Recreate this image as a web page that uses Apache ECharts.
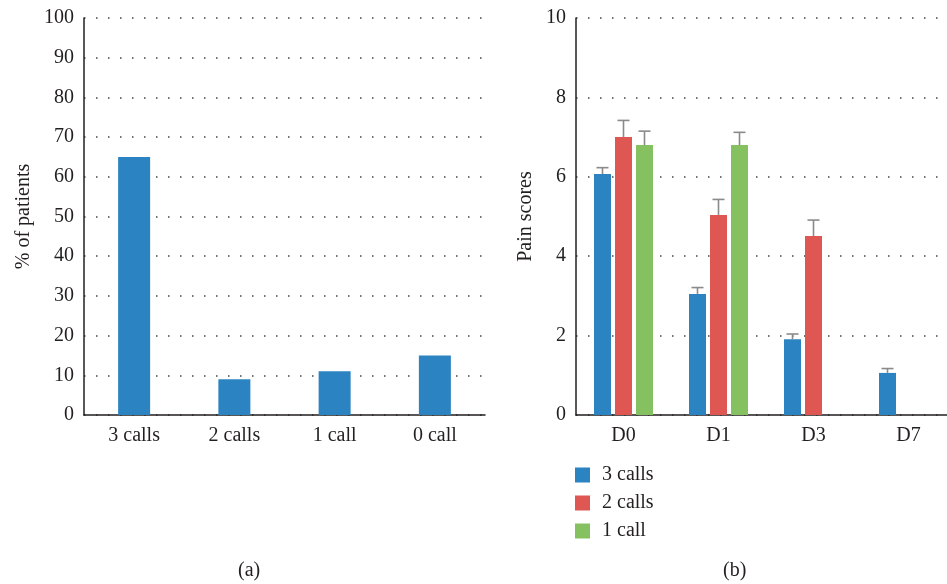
<!DOCTYPE html>
<html>
<head>
<meta charset="utf-8">
<script src="https://cdn.jsdelivr.net/npm/echarts@6/dist/echarts.min.js"></script>
<style>
  html, body { margin: 0; padding: 0; background: #fff; }
  #chart { width: 947px; height: 584px; }
</style>
</head>
<body>
<div id="chart"></div>
<script>
// (a) share of patients by number of calls
const callGroups = ['3 calls', '2 calls', '1 call', '0 call'];
const patientPercent = [65, 9, 11, 15];

// (b) pain scores by day, mean and upper error
const days = ['D0', 'D1', 'D3', 'D7'];
const pain3Calls = [6.07, 3.05, 1.91, 1.06];
const err3Calls = [0.16, 0.16, 0.13, 0.11];
const pain2Calls = [7.0, 5.04, 4.51, null];
const err2Calls = [0.42, 0.39, 0.40, null];
const pain1Call = [6.8, 6.8, null, null];
const err1Call = [0.35, 0.32, null, null];

const FONT = '"Liberation Serif", "DejaVu Serif", serif';
const TEXT = '#231f20';
const BLUE = '#2b83c1', RED = '#df5753', GREEN = '#86c161';
const BAR_W = 17, BAR_GAP = 4;
const FS = 20;

const chart = echarts.init(document.getElementById('chart'), null, { renderer: 'canvas' });

const axisLine = { show: true, lineStyle: { color: TEXT, width: 1.5 } };
const dotted = { show: true, lineStyle: { color: '#444', width: 1.5, type: [1.5, 10.5] } };
const label = { color: TEXT, fontFamily: FONT, fontSize: FS };

// Upper-only error bars, positioned on the bar slot of series `slot` (0..2)
function errorSeries(name, means, errs, slot) {
  const data = means.map((m, i) => (m == null ? null : [i, m, m + errs[i]]));
  return {
    type: 'custom',
    name: name + ' err',
    xAxisIndex: 1,
    yAxisIndex: 1,
    z: 5,
    data: data.filter(d => d),
    renderItem: function (params, api) {
      const cat = api.value(0);
      const lo = api.coord([cat, api.value(1)]);
      const hi = api.coord([cat, api.value(2)]);
      const x = lo[0] + (slot - 1) * (BAR_W + BAR_GAP);
      const cap = 6;
      const style = { stroke: '#8a8a8a', lineWidth: 1.6, fill: null };
      return {
        type: 'group',
        children: [
          { type: 'line', shape: { x1: x, y1: lo[1], x2: x, y2: hi[1] }, style: style },
          { type: 'line', shape: { x1: x - cap, y1: hi[1], x2: x + cap, y2: hi[1] }, style: style }
        ]
      };
    }
  };
}

const option = {
  animation: false,
  backgroundColor: '#fff',
  textStyle: { fontFamily: FONT },
  title: [
    { text: '(a)', left: 233, top: 556, textStyle: { color: TEXT, fontFamily: FONT, fontSize: FS, fontWeight: 'normal' } },
    { text: '(b)', left: 718, top: 556, textStyle: { color: TEXT, fontFamily: FONT, fontSize: FS, fontWeight: 'normal' } }
  ],
  legend: {
    data: ['3 calls', '2 calls', '1 call'],
    orient: 'vertical',
    left: 570,
    top: 460,
    itemWidth: 15,
    itemHeight: 15,
    itemGap: 8,
    icon: 'rect',
    textStyle: { color: TEXT, fontFamily: FONT, fontSize: FS, lineHeight: 20, padding: [0, 0, 0, 7] }
  },
  grid: [
    { left: 84, top: 18, width: 401, height: 397, outerBoundsMode: 'none', containLabel: false },
    { left: 576, top: 18, width: 380, height: 397, outerBoundsMode: 'none', containLabel: false }
  ],
  xAxis: [
    {
      type: 'category', gridIndex: 0, data: callGroups,
      axisLine: axisLine, axisTick: { show: false },
      axisLabel: Object.assign({ margin: 11 }, label)
    },
    {
      type: 'category', gridIndex: 1, data: days,
      axisLine: axisLine, axisTick: { show: false },
      axisLabel: Object.assign({ margin: 11 }, label)
    }
  ],
  yAxis: [
    {
      type: 'value', gridIndex: 0, min: 0, max: 100, interval: 10,
      name: '% of patients', nameLocation: 'middle', nameGap: 50,
      nameTextStyle: { color: TEXT, fontFamily: FONT, fontSize: FS },
      axisLine: axisLine, axisTick: { show: false },
      axisLabel: Object.assign({ margin: 10 }, label),
      splitLine: dotted
    },
    {
      type: 'value', gridIndex: 1, min: 0, max: 10, interval: 2,
      name: 'Pain scores', nameLocation: 'middle', nameGap: 40,
      nameTextStyle: { color: TEXT, fontFamily: FONT, fontSize: FS },
      axisLine: axisLine, axisTick: { show: false },
      axisLabel: Object.assign({ margin: 10 }, label),
      splitLine: dotted
    }
  ],
  series: [
    {
      type: 'bar', name: 'patients', xAxisIndex: 0, yAxisIndex: 0,
      data: patientPercent, barWidth: 32, itemStyle: { color: BLUE }
    },
    {
      type: 'bar', name: '3 calls', xAxisIndex: 1, yAxisIndex: 1,
      data: pain3Calls, barWidth: BAR_W, barGap: (BAR_GAP / BAR_W * 100) + '%', itemStyle: { color: BLUE }
    },
    {
      type: 'bar', name: '2 calls', xAxisIndex: 1, yAxisIndex: 1,
      data: pain2Calls, barWidth: BAR_W, barGap: (BAR_GAP / BAR_W * 100) + '%', itemStyle: { color: RED }
    },
    {
      type: 'bar', name: '1 call', xAxisIndex: 1, yAxisIndex: 1,
      data: pain1Call, barWidth: BAR_W, barGap: (BAR_GAP / BAR_W * 100) + '%', itemStyle: { color: GREEN }
    },
    errorSeries('3 calls', pain3Calls, err3Calls, 0),
    errorSeries('2 calls', pain2Calls, err2Calls, 1),
    errorSeries('1 call', pain1Call, err1Call, 2)
  ]
};

chart.setOption(option);
</script>
</body>
</html>
